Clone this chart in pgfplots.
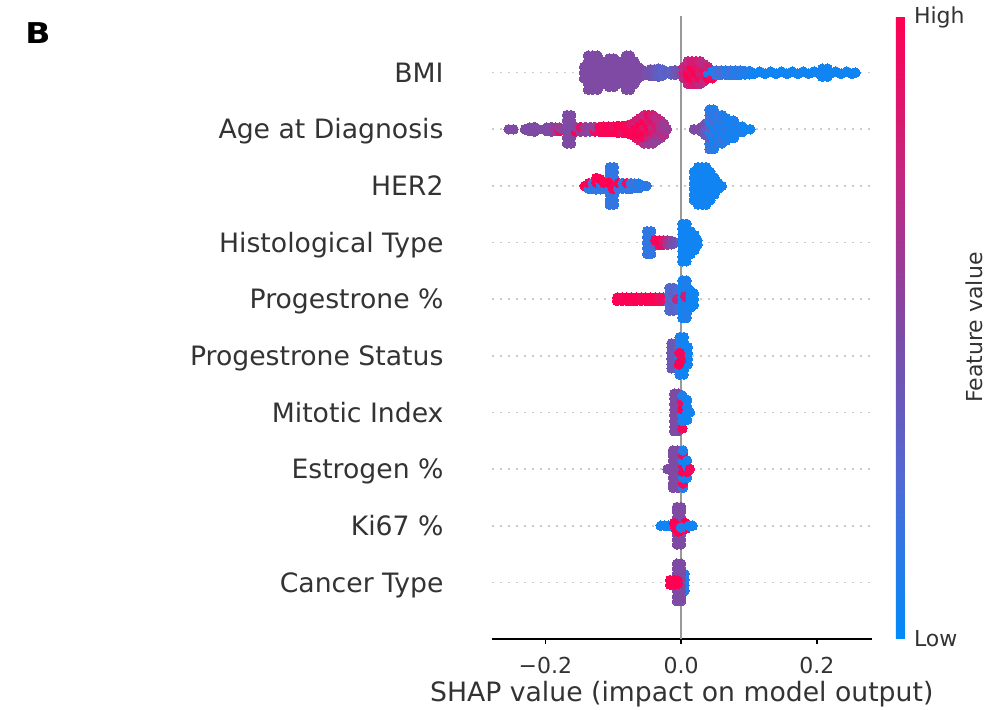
\documentclass[border=0pt]{standalone}
\usepackage{fontspec}
\setmainfont{DejaVu Sans}
\usepackage{pgfplots}
\pgfplotsset{compat=1.18}

\newcommand\labfont{\fontsize{20}{24}\selectfont}
\newcommand\tickfont{\fontsize{16.5}{20}\selectfont}
\newcommand\cbfont{\fontsize{16.5}{20}\selectfont}

\pgfplotsset{
  swarm/.style={only marks, scatter, mark=*, mark size=3.6pt,
    point meta=explicit,
    scatter/use mapped color={draw=mapped color, fill=mapped color},
    mark options={line width=0pt}},
}

\begin{document}
\begin{tikzpicture}
% canvas of the reference, axis box starts at (0,0)
\path[use as bounding box] (-368.8pt,-53.25pt) rectangle (375.2pt,479.25pt);

\begin{axis}[
    name=ax, at={(0pt,0pt)}, anchor=south west,
    scale only axis, width=285pt, height=467.25pt,
    xmin=-0.279, xmax=0.281, ymin=-1, ymax=10,
    axis x line*=bottom, axis y line*=left,
    x axis line style={-, line width=1.3pt, black},
    y axis line style={draw=none},
    tick align=outside, major tick length=3.75pt,
    xtick={-0.2,0,0.2}, xticklabels={−0.2,0.0,0.2},
    xtick style={black, line width=1.1pt},
    xticklabel style={font=\tickfont, text=black!80, anchor=north, inner sep=0pt, yshift=-9.75pt},
    ytick={0,...,9},
    yticklabels={Cancer Type, Ki67 \%, Estrogen \%, Mitotic Index, Progestrone Status,
      Progestrone \%, Histological Type, HER2, Age at Diagnosis, BMI},
    ytick style={draw=none},
    yticklabel style={font=\labfont, text=black!80, anchor=base east, inner sep=0pt,
      xshift=-32.25pt, yshift=-7.3pt},
    ymajorgrids,
    major grid style={draw=black!20, line width=1.2pt, dash pattern=on 1.5pt off 4.5pt},
    xlabel={SHAP value (impact on model output)},
    xlabel style={font=\labfont, text=black!80, at={(axis description cs:0.5,0)},
      anchor=north, inner sep=0pt, yshift=-31.5pt},
    colormap={shap}{rgb255=(0,139,251) rgb255=(80,106,212) rgb255=(126,74,164)
      rgb255=(196,38,128) rgb255=(255,0,82)},
    point meta min=0, point meta max=1,
    colorbar,
    colorbar style={
      at={(parent axis.south east)}, anchor=south west, xshift=9.5pt,
      scale only axis, width=6.75pt, height=467.25pt,
      axis line style={draw=none}, tick style={draw=none}, major tick length=0pt,
      ytick={0,1}, yticklabels={Low,High},
      yticklabel style={font=\cbfont, text=black!80, anchor=base west, inner sep=0pt,
        xshift=6.75pt, yshift=-6pt},
    },
]
% zero line
\addplot[black!40, line width=1.5pt, forget plot] coordinates {(0,-1) (0,10)};

% BMI
\addplot[swarm] coordinates {
(-0.143,8.9)[0.5] (-0.143,9.0)[0.5] (-0.143,9.1)[0.5]
(-0.137,8.7)[0.5] (-0.137,8.8)[0.5] (-0.137,8.9)[0.5] (-0.137,9.0)[0.5] (-0.137,9.1)[0.5] (-0.137,9.2)[0.5] (-0.137,9.3)[0.5]
(-0.130,8.7)[0.5] (-0.130,8.8)[0.5] (-0.130,8.9)[0.5] (-0.130,9.0)[0.5] (-0.130,9.1)[0.5] (-0.130,9.2)[0.5] (-0.130,9.3)[0.5]
(-0.123,8.7)[0.5] (-0.123,8.8)[0.5] (-0.123,8.9)[0.5] (-0.123,9.0)[0.5] (-0.123,9.1)[0.5] (-0.123,9.2)[0.5] (-0.123,9.3)[0.5]
(-0.117,8.8)[0.5] (-0.117,8.9)[0.5] (-0.117,9.0)[0.5] (-0.117,9.1)[0.5] (-0.117,9.2)[0.5]
(-0.112,8.9)[0.5] (-0.112,9.0)[0.5] (-0.112,9.1)[0.5]
(-0.106,8.75)[0.5] (-0.106,8.85)[0.5] (-0.106,8.95)[0.5] (-0.106,9.05)[0.5] (-0.106,9.15)[0.5] (-0.106,9.25)[0.5]
(-0.099,8.75)[0.5] (-0.099,8.85)[0.5] (-0.099,8.95)[0.5] (-0.099,9.05)[0.5] (-0.099,9.15)[0.5] (-0.099,9.25)[0.5]
(-0.093,8.8)[0.5] (-0.093,8.9)[0.5] (-0.093,9.0)[0.5] (-0.093,9.1)[0.5] (-0.093,9.2)[0.5]
(-0.087,8.9)[0.5] (-0.087,9.0)[0.5] (-0.087,9.1)[0.5]
(-0.081,8.7)[0.5] (-0.081,8.8)[0.5] (-0.081,8.9)[0.5] (-0.081,9.0)[0.5] (-0.081,9.1)[0.5] (-0.081,9.2)[0.5] (-0.081,9.3)[0.5]
(-0.075,8.7)[0.5] (-0.075,8.8)[0.5] (-0.075,8.9)[0.5] (-0.075,9.0)[0.5] (-0.075,9.1)[0.5] (-0.075,9.2)[0.5] (-0.075,9.3)[0.5]
(-0.069,8.8)[0.5] (-0.069,8.9)[0.5] (-0.069,9.0)[0.5] (-0.069,9.1)[0.5] (-0.069,9.2)[0.5]
(-0.063,8.9)[0.5] (-0.063,9.0)[0.5] (-0.063,9.1)[0.5]
(-0.057,8.95)[0.5] (-0.057,9.05)[0.5]
(-0.051,9.0)[0.45] (-0.045,8.94)[0.45] (-0.045,9.06)[0.45] (-0.039,8.94)[0.4] (-0.039,9.06)[0.4]
(-0.033,8.93)[0.35] (-0.033,9.0)[0.35] (-0.033,9.07)[0.35] (-0.027,8.95)[0.3] (-0.027,9.05)[0.3]
(-0.021,9.0)[0.35] (-0.015,8.97)[0.3] (-0.015,9.03)[0.3] (-0.009,8.96)[0.4] (-0.009,9.04)[0.4] (-0.003,9.0)[0.45]
(0.004,8.9)[0.7] (0.004,9.0)[0.8] (0.004,9.1)[0.75]
(0.010,8.8)[0.75] (0.010,8.9)[0.9] (0.010,9.0)[1.0] (0.010,9.1)[0.85] (0.010,9.2)[0.75]
(0.016,8.8)[0.85] (0.016,8.9)[1.0] (0.016,9.0)[0.9] (0.016,9.1)[1.0] (0.016,9.2)[0.8]
(0.022,8.8)[0.8] (0.022,8.9)[0.85] (0.022,9.0)[1.0] (0.022,9.1)[0.9] (0.022,9.2)[0.85]
(0.028,8.8)[0.7] (0.028,8.9)[0.95] (0.028,9.0)[0.8] (0.028,9.1)[0.85] (0.028,9.2)[0.75]
(0.034,8.85)[0.75] (0.034,8.95)[0.85] (0.034,9.05)[0.9] (0.034,9.15)[0.7]
(0.040,8.9)[1.0] (0.040,9.0)[0.1] (0.040,9.1)[0.8] (0.046,8.9)[0.95] (0.046,9.02)[0.05]
(0.052,8.96)[0.2] (0.052,9.04)[0.15] (0.059,8.96)[0.15] (0.059,9.04)[0.25]
(0.066,8.96)[0.2] (0.066,9.04)[0.1] (0.073,8.96)[0.1] (0.073,9.04)[0.2]
(0.080,8.96)[0.15] (0.080,9.04)[0.1] (0.087,8.96)[0.1] (0.087,9.04)[0.15]
(0.094,8.97)[0.1] (0.094,9.03)[0.1] (0.101,8.97)[0.05] (0.101,9.03)[0.1]
(0.108,8.98)[0.05] (0.116,9.02)[0.05] (0.124,8.98)[0.05] (0.132,9.02)[0.05] (0.140,8.98)[0.05]
(0.148,9.02)[0.05] (0.156,8.98)[0.05] (0.164,9.02)[0.05] (0.172,8.98)[0.05] (0.180,9.02)[0.05]
(0.188,8.98)[0.05] (0.196,9.02)[0.05] (0.204,8.98)[0.05] (0.212,9.02)[0.05] (0.220,8.98)[0.05]
(0.208,8.93)[0.05] (0.208,9.07)[0.05] (0.216,8.93)[0.05] (0.216,9.07)[0.05]
(0.228,9.02)[0.05] (0.236,8.98)[0.05] (0.244,9.02)[0.05] (0.252,8.98)[0.05] (0.257,9.0)[0.05]
};

% Age at Diagnosis
\addplot[swarm] coordinates {
(-0.254,8.0)[0.5] (-0.247,8.0)[0.5] (-0.230,8.0)[0.5] (-0.223,7.97)[0.5] (-0.223,8.03)[0.5]
(-0.216,7.96)[0.5] (-0.216,8.04)[0.5] (-0.210,8.0)[0.5] (-0.198,7.97)[0.5] (-0.198,8.03)[0.5]
(-0.191,7.96)[0.5] (-0.191,8.04)[0.5] (-0.185,7.97)[0.6] (-0.185,8.03)[0.6]
(-0.179,7.97)[0.9] (-0.179,8.03)[0.6] (-0.173,8.0)[0.55]
(-0.168,7.75)[0.5] (-0.168,7.85)[0.5] (-0.168,7.95)[0.5] (-0.168,8.05)[0.5] (-0.168,8.15)[0.5] (-0.168,8.25)[0.5]
(-0.162,7.75)[0.5] (-0.162,7.85)[0.5] (-0.162,7.95)[0.5] (-0.162,8.05)[0.5] (-0.162,8.15)[0.5] (-0.162,8.25)[0.5]
(-0.155,7.96)[1.0] (-0.155,8.04)[0.55] (-0.148,7.96)[0.6] (-0.148,8.04)[0.9]
(-0.141,7.96)[0.55] (-0.141,8.04)[0.6] (-0.134,7.96)[0.5] (-0.134,8.04)[0.55]
(-0.127,7.96)[0.95] (-0.127,8.04)[0.6] (-0.120,7.96)[0.9] (-0.120,8.04)[1.0]
(-0.114,7.95)[1.0] (-0.114,8.05)[0.95] (-0.107,7.95)[0.95] (-0.107,8.05)[1.0]
(-0.100,7.95)[1.0] (-0.100,8.05)[0.9] (-0.093,7.94)[1.0] (-0.093,8.06)[1.0]
(-0.086,7.94)[0.9] (-0.086,8.06)[1.0] (-0.079,7.93)[1.0] (-0.079,8.07)[0.95]
(-0.072,7.9)[1.0] (-0.072,8.0)[0.95] (-0.072,8.1)[0.85]
(-0.066,7.85)[0.9] (-0.066,7.95)[1.0] (-0.066,8.05)[1.0] (-0.066,8.15)[0.8]
(-0.060,7.8)[0.85] (-0.060,7.9)[1.0] (-0.060,8.0)[0.95] (-0.060,8.1)[1.0] (-0.060,8.2)[0.8]
(-0.054,7.75)[0.7] (-0.054,7.85)[0.95] (-0.054,7.95)[1.0] (-0.054,8.05)[0.85] (-0.054,8.15)[1.0] (-0.054,8.25)[0.75]
(-0.048,7.75)[0.6] (-0.048,7.85)[0.8] (-0.048,7.95)[0.9] (-0.048,8.05)[1.0] (-0.048,8.15)[0.85] (-0.048,8.25)[0.9]
(-0.042,7.75)[0.6] (-0.042,7.85)[0.65] (-0.042,7.95)[0.85] (-0.042,8.05)[0.75] (-0.042,8.15)[0.9] (-0.042,8.25)[0.8]
(-0.036,7.8)[0.55] (-0.036,7.9)[0.7] (-0.036,8.0)[0.8] (-0.036,8.1)[0.85] (-0.036,8.2)[0.7]
(-0.030,7.85)[0.6] (-0.030,7.95)[0.7] (-0.030,8.05)[0.65] (-0.030,8.15)[0.75]
(-0.025,7.9)[0.7] (-0.025,8.0)[0.65] (-0.025,8.1)[0.6] (-0.021,8.0)[0.6]
(0.019,8.0)[0.5] (0.025,8.0)[0.5] (0.030,7.96)[0.45] (0.030,8.04)[0.5]
(0.036,7.9)[0.4] (0.036,8.0)[0.35] (0.036,8.1)[0.45]
(0.042,7.65)[0.2] (0.042,7.75)[0.15] (0.042,7.85)[0.35] (0.042,7.95)[0.1] (0.042,8.05)[0.3] (0.042,8.15)[0.1] (0.042,8.25)[0.2] (0.042,8.35)[0.15]
(0.048,7.65)[0.1] (0.048,7.75)[0.1] (0.048,7.85)[0.05] (0.048,7.95)[0.2] (0.048,8.05)[0.05] (0.048,8.15)[0.25] (0.048,8.25)[0.1] (0.048,8.35)[0.1]
(0.054,7.75)[0.15] (0.054,7.85)[0.1] (0.054,7.95)[0.05] (0.054,8.05)[0.15] (0.054,8.15)[0.1] (0.054,8.25)[0.2]
(0.060,7.75)[0.1] (0.060,7.85)[0.2] (0.060,7.95)[0.1] (0.060,8.05)[0.05] (0.060,8.15)[0.15] (0.060,8.25)[0.1]
(0.066,7.8)[0.1] (0.066,7.9)[0.05] (0.066,8.0)[0.15] (0.066,8.1)[0.1] (0.066,8.2)[0.1]
(0.072,7.85)[0.1] (0.072,7.95)[0.05] (0.072,8.05)[0.1] (0.072,8.15)[0.05]
(0.078,7.85)[0.05] (0.078,7.95)[0.1] (0.078,8.05)[0.05] (0.078,8.15)[0.1]
(0.084,7.95)[0.05] (0.084,8.05)[0.1] (0.090,7.95)[0.1] (0.090,8.05)[0.05]
(0.096,8.0)[0.05] (0.102,8.0)[0.05]
};

% HER2
\addplot[swarm] coordinates {
(-0.142,7.0)[1.0] (-0.136,6.95)[0.15] (-0.136,7.05)[0.95] (-0.130,6.95)[0.1] (-0.130,7.05)[0.2]
(-0.125,6.94)[0.15] (-0.125,7.06)[1.0] (-0.125,7.14)[1.0] (-0.119,6.94)[0.15] (-0.119,7.06)[0.15] (-0.119,7.12)[1.0]
(-0.113,6.95)[0.15] (-0.113,7.05)[1.0]
(-0.105,6.67)[0.15] (-0.105,6.75)[0.15] (-0.105,6.85)[0.15] (-0.105,6.95)[0.15] (-0.105,7.05)[0.15] (-0.105,7.15)[0.15] (-0.105,7.25)[0.15] (-0.105,7.33)[0.15]
(-0.099,6.67)[0.15] (-0.099,6.75)[0.15] (-0.099,6.85)[0.15] (-0.099,6.95)[0.15] (-0.099,7.05)[0.15] (-0.099,7.15)[0.15] (-0.099,7.25)[0.15] (-0.099,7.33)[0.15]
(-0.107,7.06)[1.0] (-0.100,6.95)[0.95]
(-0.092,6.95)[0.2] (-0.092,7.05)[1.0] (-0.086,6.95)[0.15] (-0.086,7.05)[0.1]
(-0.080,6.95)[0.15] (-0.080,7.05)[0.9] (-0.074,6.95)[0.2] (-0.074,7.05)[0.15]
(-0.068,6.96)[0.1] (-0.068,7.04)[0.2] (-0.062,6.96)[0.15] (-0.062,7.04)[0.1]
(-0.056,7.0)[0.1] (-0.051,7.0)[0.15]
(0.019,6.75)[0.05] (0.019,6.85)[0.05] (0.019,6.95)[0.05] (0.019,7.05)[0.05] (0.019,7.15)[0.05] (0.019,7.25)[0.05]
(0.025,6.67)[0.05] (0.025,6.75)[0.05] (0.025,6.85)[0.05] (0.025,6.95)[0.05] (0.025,7.05)[0.05] (0.025,7.15)[0.05] (0.025,7.25)[0.05] (0.025,7.33)[0.05]
(0.031,6.67)[0.05] (0.031,6.75)[0.05] (0.031,6.85)[0.05] (0.031,6.95)[0.05] (0.031,7.05)[0.05] (0.031,7.15)[0.05] (0.031,7.25)[0.05] (0.031,7.33)[0.05]
(0.037,6.67)[0.05] (0.037,6.75)[0.05] (0.037,6.85)[0.05] (0.037,6.95)[0.05] (0.037,7.05)[0.05] (0.037,7.15)[0.05] (0.037,7.25)[0.05] (0.037,7.33)[0.05]
(0.043,6.75)[0.05] (0.043,6.85)[0.05] (0.043,6.95)[0.05] (0.043,7.05)[0.05] (0.043,7.15)[0.05] (0.043,7.25)[0.05]
(0.049,6.85)[0.05] (0.049,6.95)[0.05] (0.049,7.05)[0.05] (0.049,7.15)[0.05]
(0.055,6.95)[0.05] (0.055,7.05)[0.05] (0.060,7.0)[0.05]
};

% Histological Type
\addplot[swarm] coordinates {
(-0.050,5.8)[0.15] (-0.050,5.9)[0.15] (-0.050,6.0)[0.15] (-0.050,6.1)[0.15] (-0.050,6.2)[0.15]
(-0.044,5.8)[0.15] (-0.044,5.9)[0.15] (-0.044,6.0)[0.15] (-0.044,6.1)[0.15] (-0.044,6.2)[0.15]
(-0.038,5.96)[0.3] (-0.038,6.04)[0.95] (-0.032,5.96)[0.95] (-0.032,6.04)[1.0]
(-0.026,5.96)[0.9] (-0.026,6.04)[0.85] (-0.020,5.96)[0.6] (-0.020,6.04)[0.7]
(-0.014,5.97)[0.45] (-0.014,6.03)[0.5] (-0.008,6.0)[0.45] (-0.003,6.0)[0.4]
(0.002,5.67)[0.05] (0.002,5.75)[0.05] (0.002,5.85)[0.05] (0.002,5.95)[0.05] (0.002,6.05)[0.05] (0.002,6.15)[0.05] (0.002,6.25)[0.05] (0.002,6.33)[0.05]
(0.008,5.67)[0.05] (0.008,5.75)[0.05] (0.008,5.85)[0.05] (0.008,5.95)[0.05] (0.008,6.05)[0.05] (0.008,6.15)[0.05] (0.008,6.25)[0.05] (0.008,6.33)[0.05]
(0.014,5.8)[0.05] (0.014,5.9)[0.05] (0.014,6.0)[0.05] (0.014,6.1)[0.05] (0.014,6.2)[0.05]
(0.020,5.87)[0.05] (0.020,5.95)[0.05] (0.020,6.05)[0.05] (0.020,6.13)[0.05]
(0.024,5.96)[0.05] (0.024,6.04)[0.05]
};

% Progestrone %
\addplot[swarm] coordinates {
(-0.094,4.97)[1.0] (-0.094,5.03)[1.0] (-0.087,4.97)[1.0] (-0.087,5.03)[0.95]
(-0.080,4.97)[1.0] (-0.080,5.03)[1.0] (-0.073,4.97)[0.95] (-0.073,5.03)[1.0]
(-0.066,4.97)[1.0] (-0.066,5.03)[1.0] (-0.059,4.97)[1.0] (-0.059,5.03)[0.95]
(-0.052,4.97)[1.0] (-0.052,5.03)[1.0] (-0.045,4.97)[0.95] (-0.045,5.03)[1.0]
(-0.038,4.97)[1.0] (-0.038,5.03)[1.0] (-0.032,4.97)[0.95] (-0.032,5.03)[0.9]
(-0.026,4.97)[0.9] (-0.026,5.03)[0.95] (-0.020,4.97)[0.85] (-0.020,5.03)[0.9]
(-0.017,4.8)[0.25] (-0.017,4.9)[0.25] (-0.017,5.0)[0.3] (-0.017,5.1)[0.25] (-0.017,5.2)[0.25]
(-0.011,4.8)[0.3] (-0.011,4.9)[0.3] (-0.011,5.0)[0.25] (-0.011,5.1)[0.3] (-0.011,5.2)[0.3]
(-0.005,4.85)[0.25] (-0.005,4.95)[0.25] (-0.005,5.05)[0.25] (-0.005,5.15)[0.25] (-0.006,5.0)[0.75]
(0.002,4.67)[0.05] (0.002,4.75)[0.05] (0.002,4.85)[0.05] (0.002,4.95)[0.05] (0.002,5.05)[0.05] (0.002,5.15)[0.05] (0.002,5.25)[0.05] (0.002,5.33)[0.05]
(0.008,4.67)[0.1] (0.008,4.75)[0.1] (0.008,4.85)[0.1] (0.008,4.95)[0.1] (0.008,5.05)[0.1] (0.008,5.15)[0.1] (0.008,5.25)[0.1] (0.008,5.33)[0.1]
(0.006,5.05)[0.8]
(0.014,4.85)[0.05] (0.014,4.95)[0.05] (0.014,5.05)[0.05] (0.014,5.15)[0.05]
(0.019,4.9)[0.05] (0.019,5.0)[0.05] (0.019,5.1)[0.05]
};

% Progestrone Status
\addplot[swarm] coordinates {
(-0.014,3.78)[0.4] (-0.014,3.85)[0.4] (-0.014,3.95)[0.4] (-0.014,4.05)[0.4] (-0.014,4.15)[0.4] (-0.014,4.22)[0.4]
(-0.008,3.78)[0.4] (-0.008,3.85)[0.4] (-0.008,3.95)[0.4] (-0.008,4.05)[0.4] (-0.008,4.15)[0.4] (-0.008,4.22)[0.4]
(-0.002,3.67)[0.1] (-0.002,3.75)[0.1] (-0.002,3.85)[0.1] (-0.002,3.95)[0.1] (-0.002,4.05)[0.1] (-0.002,4.15)[0.1] (-0.002,4.25)[0.1] (-0.002,4.33)[0.1]
(0.004,3.67)[0.05] (0.004,3.75)[0.05] (0.004,3.85)[0.05] (0.004,3.95)[0.05] (0.004,4.05)[0.05] (0.004,4.15)[0.05] (0.004,4.25)[0.05] (0.004,4.33)[0.05]
(0.010,3.85)[0.05] (0.010,3.95)[0.05] (0.010,4.05)[0.05] (0.010,4.15)[0.05]
(-0.002,4.05)[0.95] (0.000,3.92)[0.9] (-0.003,3.85)[1.0]
};

% Mitotic Index
\addplot[swarm] coordinates {
(-0.010,2.67)[0.5] (-0.010,2.75)[0.5] (-0.010,2.85)[0.5] (-0.010,2.95)[0.5] (-0.010,3.05)[0.5] (-0.010,3.15)[0.5] (-0.010,3.25)[0.5] (-0.010,3.33)[0.5]
(-0.004,2.67)[0.5] (-0.004,2.75)[0.5] (-0.004,2.85)[0.5] (-0.004,2.95)[0.5] (-0.004,3.05)[0.5] (-0.004,3.15)[0.5] (-0.004,3.25)[0.5] (-0.004,3.33)[0.5]
(0.002,2.72)[0.95] (0.002,2.85)[0.1] (0.002,2.95)[0.05] (0.002,3.06)[1.0] (0.002,3.2)[0.9] (0.002,3.3)[0.1]
(0.009,2.87)[0.05] (0.009,3.0)[0.05] (0.009,3.1)[0.1] (0.009,3.22)[0.05] (0.013,3.0)[0.05]
};

% Estrogen %
\addplot[swarm] coordinates {
(-0.020,2.0)[0.5]
(-0.012,1.67)[0.5] (-0.012,1.75)[0.5] (-0.012,1.85)[0.5] (-0.012,1.95)[0.5] (-0.012,2.05)[0.5] (-0.012,2.15)[0.5] (-0.012,2.25)[0.5] (-0.012,2.33)[0.5]
(-0.005,1.67)[0.5] (-0.005,1.75)[0.5] (-0.005,1.85)[0.5] (-0.005,1.95)[0.5] (-0.005,2.05)[0.5] (-0.005,2.15)[0.5] (-0.005,2.25)[0.5] (-0.005,2.33)[0.5]
(0.003,1.67)[0.1] (0.003,1.75)[0.95] (0.003,1.85)[0.1] (0.003,1.95)[1.0] (0.003,2.05)[0.95] (0.003,2.15)[0.05] (0.003,2.25)[0.9] (0.003,2.33)[0.1]
(0.009,1.85)[0.05] (0.009,1.95)[1.0] (0.009,2.05)[0.1] (0.009,2.15)[0.05] (0.013,2.0)[0.95]
};

% Ki67 %
\addplot[swarm] coordinates {
(-0.030,1.0)[0.05] (-0.024,1.0)[0.05] (-0.018,1.0)[0.05]
(-0.006,0.67)[0.5] (-0.006,0.75)[0.5] (-0.006,0.85)[0.5] (-0.006,0.95)[0.5] (-0.006,1.05)[0.5] (-0.006,1.15)[0.5] (-0.006,1.25)[0.5] (-0.006,1.33)[0.5]
(0.000,0.67)[0.5] (0.000,0.75)[0.5] (0.000,0.85)[0.5] (0.000,0.95)[0.5] (0.000,1.05)[0.5] (0.000,1.15)[0.5] (0.000,1.25)[0.5] (0.000,1.33)[0.5]
(-0.010,1.05)[1.0] (-0.008,0.95)[0.95] (0.006,1.05)[1.0] (0.007,0.95)[0.95] (-0.004,0.9)[1.0]
(0.000,0.97)[0.1] (0.012,1.0)[0.05] (0.017,1.0)[0.05]
};

% Cancer Type
\addplot[swarm] coordinates {
(0.005,-0.15)[0.1] (0.005,-0.05)[0.1] (0.005,0.05)[0.1] (0.005,0.15)[0.1]
(-0.006,-0.33)[0.5] (-0.006,-0.25)[0.5] (-0.006,-0.15)[0.5] (-0.006,-0.05)[0.5] (-0.006,0.05)[0.5] (-0.006,0.15)[0.5] (-0.006,0.25)[0.5] (-0.006,0.33)[0.5]
(0.000,-0.33)[0.5] (0.000,-0.25)[0.5] (0.000,-0.15)[0.5] (0.000,-0.05)[0.5] (0.000,0.05)[0.5] (0.000,0.15)[0.5] (0.000,0.25)[0.5] (0.000,0.33)[0.5]
(-0.016,-0.04)[1.0] (-0.016,0.04)[1.0] (-0.010,-0.04)[1.0] (-0.010,0.04)[1.0] (-0.005,-0.03)[1.0] (-0.005,0.03)[1.0]
};
\end{axis}

\node[rotate=90, anchor=north, inner sep=0pt, font=\cbfont, text=black!80] at (355pt,233.6pt) {Feature value};
\node[anchor=base west, inner sep=0pt, font=\fontsize{21.5}{26}\selectfont\bfseries, xscale=1.15] at (-350pt,446.8pt) {B};
\end{tikzpicture}
\end{document}
